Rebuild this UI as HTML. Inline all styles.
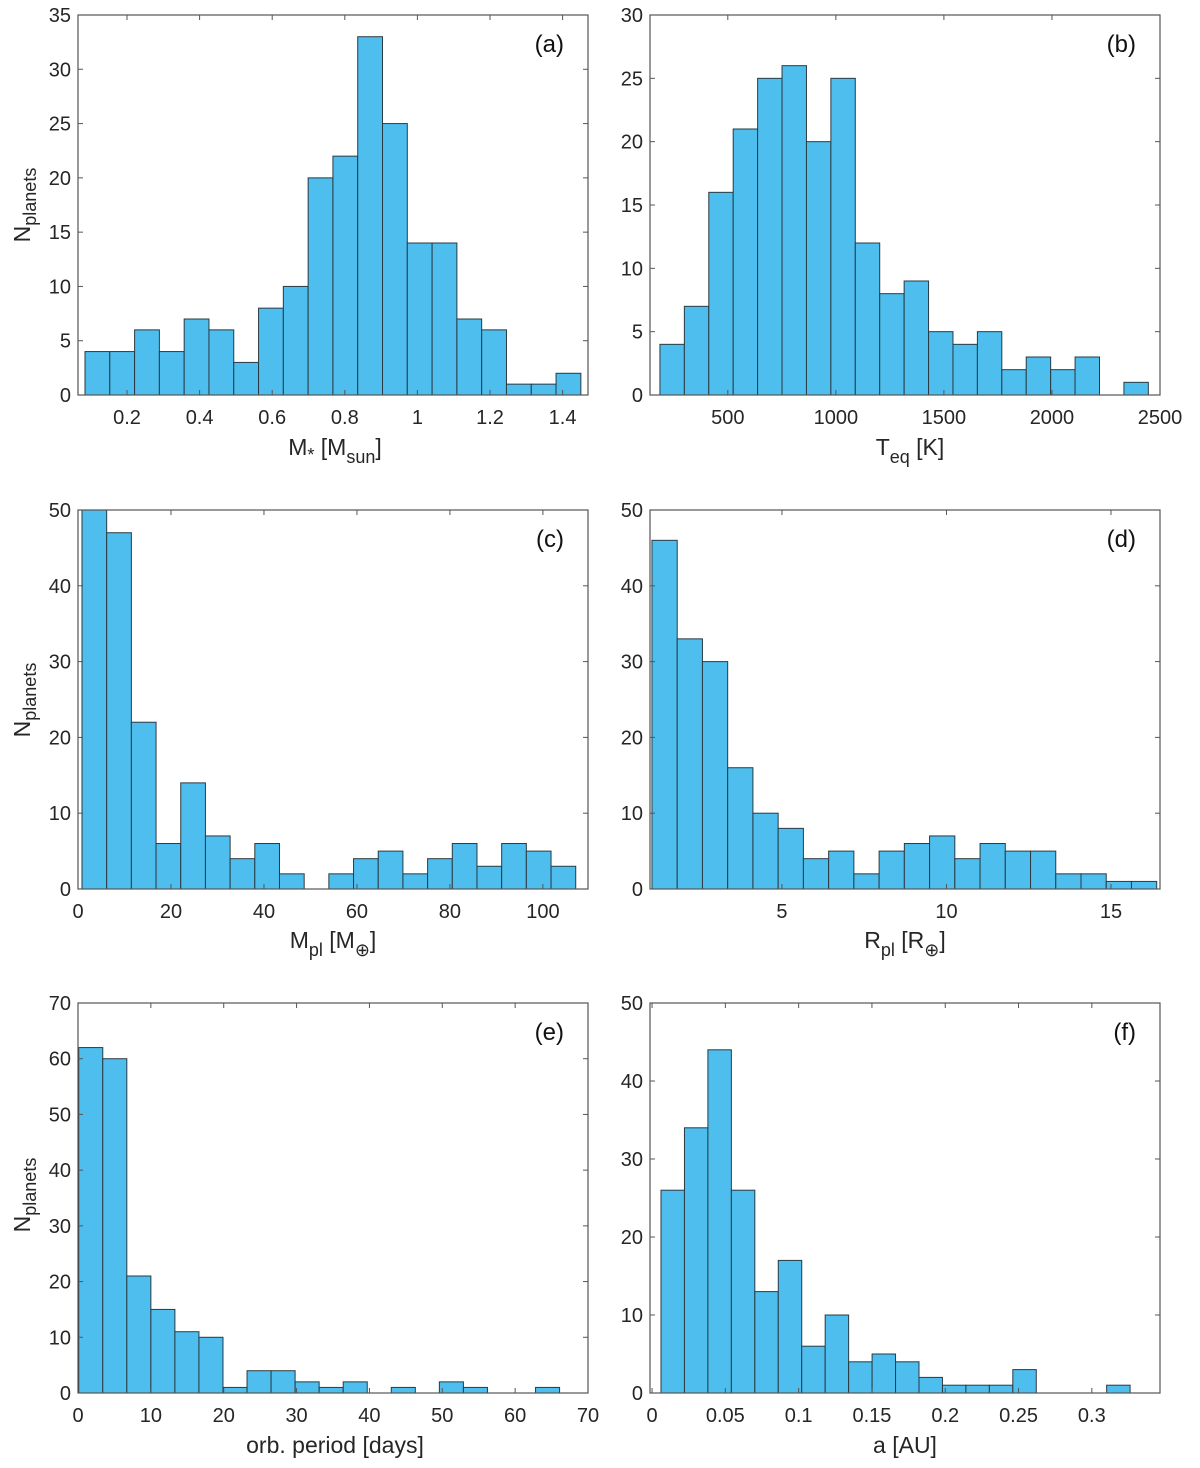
<!DOCTYPE html>
<html><head><meta charset="utf-8"><style>
html,body{margin:0;padding:0;background:#fff;}
svg{display:block;font-family:"Liberation Sans","DejaVu Sans",sans-serif;}
</style></head><body>
<svg id="fig" width="1200" height="1468" viewBox="0 0 1200 1468"></svg>
<script>
// Panel data (counts per bin)
const countsA = [4,4,6,4,7,6,3,8,10,20,22,33,25,14,14,7,6,1,1,2];
const countsB = [4,7,16,21,25,26,20,25,12,8,9,5,4,5,2,3,2,3,0,1];
const countsC = [50,47,22,6,14,7,4,6,2,0,2,4,5,2,4,6,3,6,5,3];
const countsD = [46,33,30,16,10,8,4,5,2,5,6,7,4,6,5,5,2,2,1,1];
const countsE = [62,60,21,15,11,10,1,4,4,2,1,2,0,1,0,2,1,0,0,1];
const countsF = [26,34,44,26,13,17,6,10,4,5,4,2,1,1,1,3,0,0,0,1];
const xTicksA = [0.2,0.4,0.6,0.8,1,1.2,1.4];
const xTicksB = [500,1000,1500,2000,2500];
const xTicksC = [0,20,40,60,80,100];
const xTicksD = [5,10,15];
const xTicksE = [0,10,20,30,40,50,60,70];
const xTicksF = [0,0.05,0.1,0.15,0.2,0.25,0.3];
const yTicks35 = [0,5,10,15,20,25,30,35];
const yTicks30 = [0,5,10,15,20,25,30];
const yTicks50 = [0,10,20,30,40,50];
const yTicks70 = [0,10,20,30,40,50,60,70];

const NS="http://www.w3.org/2000/svg";
const svg=document.getElementById('fig');
function mk(tag,attrs,parent){const e=document.createElementNS(NS,tag);for(const k in attrs)e.setAttribute(k,attrs[k]);(parent||svg).appendChild(e);return e;}

const panels=[
 {id:'a',box:[78,15,588,395],xd:[0.065,1.47],ymax:35,yt:yTicks35,xt:xTicksA,b0:0.0843,bw:0.0683,c:countsA,lab:'(a)'},
 {id:'b',box:[650,15,1160,395],xd:[140,2500],ymax:30,yt:yTicks30,xt:xTicksB,b0:186,bw:113,c:countsB,lab:'(b)'},
 {id:'c',box:[78,510,588,889],xd:[0,109.7],ymax:50,yt:yTicks50,xt:xTicksC,b0:0.86,bw:5.31,c:countsC,lab:'(c)'},
 {id:'d',box:[650,510,1160,889],xd:[0.99,16.49],ymax:50,yt:yTicks50,xt:xTicksD,b0:1.05,bw:0.767,c:countsD,lab:'(d)'},
 {id:'e',box:[78,1003,588,1393],xd:[0,70],ymax:70,yt:yTicks70,xt:xTicksE,b0:0.1,bw:3.3,c:countsE,lab:'(e)'},
 {id:'f',box:[650,1003,1160,1393],xd:[-0.0014,0.3465],ymax:50,yt:yTicks50,xt:xTicksF,b0:0.0061,bw:0.016,c:countsF,lab:'(f)'}
];

panels.forEach(p=>{
 const [x0,y0,x1,y1]=p.box;
 const g=mk('g',{});
 
 
 const sx=v=>x0+(v-p.xd[0])/(p.xd[1]-p.xd[0])*(x1-x0);
 const sy=v=>y1-v/p.ymax*(y1-y0);
 const bg=mk('rect',{x:x0,y:y0,width:x1-x0,height:y1-y0,fill:'#fff'},g);
 
 
 p.c.forEach((v,i)=>{
  if(v<=0)return;
  const xa=sx(p.b0+i*p.bw), xb=sx(p.b0+(i+1)*p.bw);
  const r=mk('rect',{x:xa,y:sy(v),width:xb-xa,height:sy(0)-sy(v),fill:'#4DBEEE',stroke:'#2b3a42','stroke-width':1},g);
  
  
 });
 const frame=mk('rect',{x:x0,y:y0,width:x1-x0,height:y1-y0,fill:'none',stroke:'#555','stroke-width':1.2},g);
 
 
 p.yt.forEach(t=>{
  const y=sy(t);
  mk('line',{x1:x0,y1:y,x2:x0+5,y2:y,stroke:'#555'},g);
  mk('line',{x1:x1,y1:y,x2:x1-5,y2:y,stroke:'#555'},g);
  const tx=mk('text',{x:x0-7,y:y+7,'text-anchor':'end','font-size':20,fill:'#262626'},g);
  tx.textContent=t;
  
  
 });
 p.xt.forEach(t=>{
  const x=sx(t);
  mk('line',{x1:x,y1:y1,x2:x,y2:y1-5,stroke:'#555'},g);
  mk('line',{x1:x,y1:y0,x2:x,y2:y0+5,stroke:'#555'},g);
  const tx=mk('text',{x:x,y:y1+29,'text-anchor':'middle','font-size':20,fill:'#262626'},g);
  tx.textContent=t;
  
  
 });
 const lb=mk('text',{x:x1-24,y:y0+37,'text-anchor':'end','font-size':24,fill:'#111'},g);
 lb.textContent=p.lab;
 
 
});

// axis titles
function title(html,x,y,rot,name){
 const t=mk('text',{x:x,y:y,'text-anchor':'middle','font-size':23,fill:'#262626'});
 if(rot)t.setAttribute('transform','rotate(-90 '+x+' '+y+')');
 t.innerHTML=html;
 
 
}
const np='N<tspan dy="6" font-size="18">planets</tspan>';
title(np,30,205,true,'y-axis-title-a');
title(np,30,700,true,'y-axis-title-c');
title(np,30,1195,true,'y-axis-title-e');
title('M<tspan dy="6" font-size="18">*</tspan><tspan dy="-6"> [M</tspan><tspan dy="8" font-size="18">sun</tspan><tspan dy="-8">]</tspan>',335,455,false,'x-axis-title-a');
title('T<tspan dy="8" font-size="18">eq</tspan><tspan dy="-8"> [K]</tspan>',910,455,false,'x-axis-title-b');
title('M<tspan dy="8" font-size="18">pl</tspan><tspan dy="-8"> [M</tspan><tspan dy="8" font-size="18">⊕</tspan><tspan dy="-8">]</tspan>',333,948,false,'x-axis-title-c');
title('R<tspan dy="8" font-size="18">pl</tspan><tspan dy="-8"> [R</tspan><tspan dy="8" font-size="18">⊕</tspan><tspan dy="-8">]</tspan>',905,948,false,'x-axis-title-d');
title('orb. period [days]',335,1453,false,'x-axis-title-e');
title('a [AU]',905,1453,false,'x-axis-title-f');
</script>
</body></html>
